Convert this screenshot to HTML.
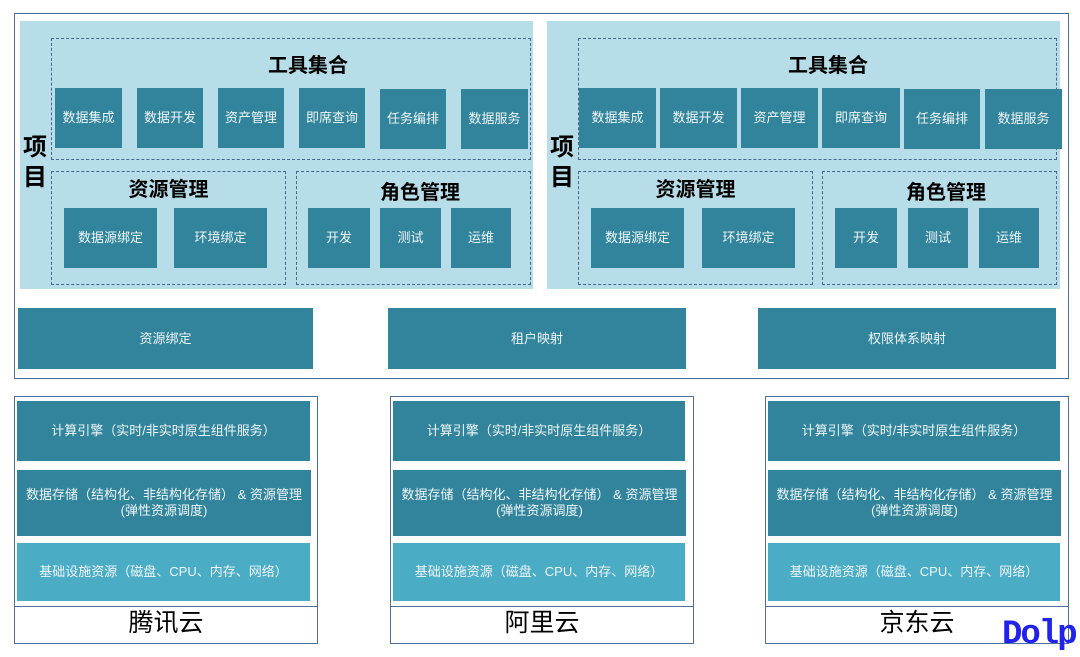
<!DOCTYPE html>
<html><head><meta charset="utf-8"><style>
*{margin:0;padding:0;box-sizing:border-box}
body{width:1080px;height:657px;background:#fff;position:relative;overflow:hidden;font-family:"Liberation Sans","Noto Sans CJK SC",sans-serif}
div{position:absolute}
.b{background:#31849b;color:#eef6f8;font-size:13px;display:flex;align-items:center;justify-content:center;text-align:center;line-height:16px}
.l{background:#4bacc6}
.p{background:#b7dde8}
.d{border:1.6px dashed #4a6690}
.t{font-weight:bold;font-size:20px;color:#000;text-align:center;white-space:nowrap}
.f{border:1.3px solid #4f6ea0}
.c{font-size:25px;color:#000;text-align:center;line-height:36px}
</style></head><body>
<div class="f" style="left:14px;top:13px;width:1055px;height:366px"></div>

<!-- left project -->
<div class="p" style="left:20px;top:21px;width:513px;height:268px"></div>
<div class="t" style="left:20px;top:133px;width:30px;font-size:24px;line-height:30px;white-space:normal">项<br>目</div>
<div class="d" style="left:51px;top:38px;width:480px;height:122px"></div>
<div class="t" style="left:51px;top:49px;width:514px">工具集合</div>
<div class="b" style="left:55px;top:88px;width:67px;height:60px">数据集成</div>
<div class="b" style="left:137px;top:88px;width:66px;height:60px">数据开发</div>
<div class="b" style="left:218px;top:88px;width:66px;height:60px">资产管理</div>
<div class="b" style="left:299px;top:88px;width:66px;height:60px">即席查询</div>
<div class="b" style="left:380px;top:89px;width:66px;height:60px">任务编排</div>
<div class="b" style="left:461px;top:89px;width:67px;height:60px">数据服务</div>
<div class="d" style="left:51px;top:171px;width:235px;height:114px"></div>
<div class="t" style="left:51px;top:173px;width:235px">资源管理</div>
<div class="b" style="left:64px;top:208px;width:93px;height:60px">数据源绑定</div>
<div class="b" style="left:174px;top:208px;width:93px;height:60px">环境绑定</div>
<div class="d" style="left:296px;top:171px;width:235px;height:114px"></div>
<div class="t" style="left:296px;top:176px;width:248px">角色管理</div>
<div class="b" style="left:308px;top:208px;width:62px;height:60px">开发</div>
<div class="b" style="left:380px;top:208px;width:61px;height:60px">测试</div>
<div class="b" style="left:451px;top:208px;width:60px;height:60px">运维</div>

<!-- right project -->
<div class="p" style="left:547px;top:21px;width:513px;height:268px"></div>
<div class="t" style="left:547px;top:133px;width:30px;font-size:24px;line-height:30px;white-space:normal">项<br>目</div>
<div class="d" style="left:578px;top:38px;width:479px;height:122px"></div>
<div class="t" style="left:578px;top:49px;width:500px">工具集合</div>
<div class="b" style="left:579px;top:88px;width:77px;height:60px">数据集成</div>
<div class="b" style="left:660px;top:88px;width:77px;height:60px">数据开发</div>
<div class="b" style="left:741px;top:88px;width:77px;height:60px">资产管理</div>
<div class="b" style="left:822px;top:88px;width:78px;height:60px">即席查询</div>
<div class="b" style="left:904px;top:89px;width:76px;height:60px">任务编排</div>
<div class="b" style="left:985px;top:89px;width:77px;height:60px">数据服务</div>
<div class="d" style="left:578px;top:171px;width:235px;height:114px"></div>
<div class="t" style="left:578px;top:173px;width:235px">资源管理</div>
<div class="b" style="left:591px;top:208px;width:93px;height:60px">数据源绑定</div>
<div class="b" style="left:702px;top:208px;width:93px;height:60px">环境绑定</div>
<div class="d" style="left:822px;top:171px;width:235px;height:114px"></div>
<div class="t" style="left:822px;top:176px;width:248px">角色管理</div>
<div class="b" style="left:835px;top:208px;width:62px;height:60px">开发</div>
<div class="b" style="left:908px;top:208px;width:60px;height:60px">测试</div>
<div class="b" style="left:979px;top:208px;width:60px;height:60px">运维</div>

<!-- mapping row -->
<div class="b" style="left:18px;top:308px;width:295px;height:61px">资源绑定</div>
<div class="b" style="left:388px;top:308px;width:298px;height:61px">租户映射</div>
<div class="b" style="left:758px;top:308px;width:298px;height:61px">权限体系映射</div>

<!-- clouds -->
<div class="f" style="left:14px;top:396px;width:304px;height:211px"></div>
<div class="f" style="left:14px;top:606px;width:304px;height:38px"></div>
<div class="b" style="left:17px;top:401px;width:293px;height:60px">计算引擎（实时/非实时原生组件服务）</div>
<div class="b" style="left:17px;top:470px;width:294px;height:66px">数据存储（结构化、非结构化存储） &amp; 资源管理<br>(弹性资源调度)</div>
<div class="b l" style="left:17px;top:543px;width:293px;height:58px">基础设施资源（磁盘、CPU、内存、网络）</div>
<div class="c" style="left:14px;top:605px;width:304px">腾讯云</div>

<div class="f" style="left:390px;top:396px;width:304px;height:211px"></div>
<div class="f" style="left:390px;top:606px;width:304px;height:38px"></div>
<div class="b" style="left:393px;top:401px;width:292px;height:60px">计算引擎（实时/非实时原生组件服务）</div>
<div class="b" style="left:393px;top:470px;width:293px;height:66px">数据存储（结构化、非结构化存储） &amp; 资源管理<br>(弹性资源调度)</div>
<div class="b l" style="left:393px;top:543px;width:292px;height:58px">基础设施资源（磁盘、CPU、内存、网络）</div>
<div class="c" style="left:390px;top:605px;width:304px">阿里云</div>

<div class="f" style="left:765px;top:396px;width:304px;height:211px"></div>
<div class="f" style="left:765px;top:606px;width:304px;height:38px"></div>
<div class="b" style="left:768px;top:401px;width:292px;height:60px">计算引擎（实时/非实时原生组件服务）</div>
<div class="b" style="left:768px;top:470px;width:293px;height:66px">数据存储（结构化、非结构化存储） &amp; 资源管理<br>(弹性资源调度)</div>
<div class="b l" style="left:768px;top:543px;width:292px;height:58px">基础设施资源（磁盘、CPU、内存、网络）</div>
<div class="c" style="left:765px;top:605px;width:304px">京东云</div>

<div style="left:1002px;top:616px;font-size:34px;font-weight:bold;color:#2222ee;font-family:'Liberation Mono',monospace;letter-spacing:-2px;white-space:nowrap">Dolp</div>
</body></html>
